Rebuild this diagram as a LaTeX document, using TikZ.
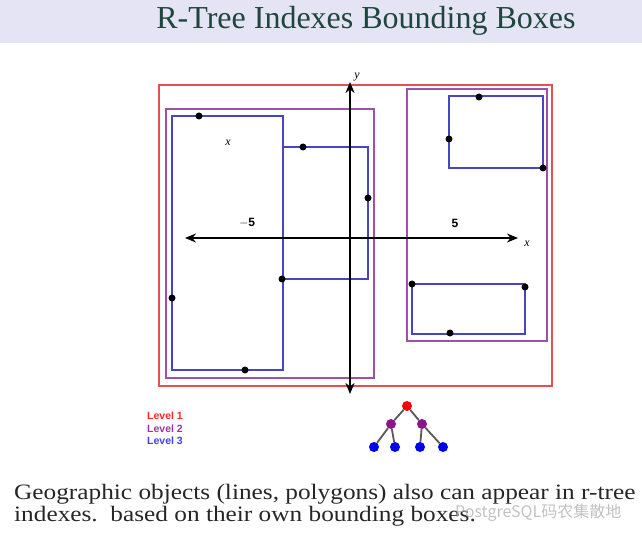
\documentclass[tikz,border=0pt]{standalone}
\usepackage{fontspec}
\setmainfont{Liberation Serif}
\setsansfont{Liberation Sans}
\newfontfamily\cjkfont{Noto Sans CJK SC}
\newfontfamily\capfont[FakeStretch=1.15]{Liberation Serif}
\usetikzlibrary{arrows.meta}
\definecolor{band}{RGB}{228,228,244}
\definecolor{titlecol}{RGB}{30,70,60}
\definecolor{lvla}{RGB}{228,80,80}
\definecolor{lvlb}{RGB}{160,80,170}
\definecolor{lvlc}{RGB}{70,70,190}
\definecolor{treer}{RGB}{250,0,0}
\definecolor{treep}{RGB}{140,20,140}
\definecolor{treeb}{RGB}{0,0,240}
\tikzset{
  boxa/.style={draw=lvla,line width=1.3pt},
  boxb/.style={draw=lvlb,line width=1.3pt},
  boxc/.style={draw=lvlc,line width=1.3pt},
  pt/.style={circle,fill=black,inner sep=0pt,minimum size=7pt},
  axis/.style={line width=2.2pt,-{Stealth[length=11pt,width=9pt]}},
  tnode/.style={circle,inner sep=0pt,minimum size=10pt},
  tedge/.style={draw=black!65,line width=1.8pt},
  lvl/.style={font=\sffamily\bfseries\fontsize{10.5}{11}\selectfont,anchor=west,inner sep=0pt},
  axlab/.style={font=\itshape\fontsize{12}{12}\selectfont,inner sep=0pt},
  numlab/.style={font=\sffamily\bfseries\fontsize{12}{12}\selectfont,inner sep=0pt},
  captext/.style={anchor=base west,inner sep=0pt,font=\capfont\fontsize{22}{26}\selectfont,text=black!85},
}
\begin{document}
\begin{tikzpicture}[x=1pt,y=-1pt]
\useasboundingbox (0,0) rectangle (642,545);
\fill[band] (0,0) rectangle (642,43);
\node[anchor=base,text=titlecol,font=\fontsize{32}{34}\selectfont,inner sep=0pt] (title) at (366,29) {R-Tree Indexes Bounding Boxes};
% level 1
\draw[boxa] (159,85) rectangle (552,386);
% level 2
\draw[boxb] (166,109) rectangle (374,378);
\draw[boxb] (407,89) rectangle (547,341);
% level 3
\draw[boxc] (172,116) rectangle (283,370);
\draw[boxc] (283,147) rectangle (368,279);
\draw[boxc] (449,96) rectangle (543,168);
\draw[boxc] (412,284) rectangle (525,334);
% axes
\coordinate (xo) at (350,238);
\coordinate (xl) at (185,238);
\coordinate (xr) at (518,238);
\coordinate (yt) at (350,82);
\coordinate (yb) at (350,394);
\draw[axis] (xo) -- (xl);
\draw[axis] (xo) -- (xr);
\draw[axis] (xo) -- (yt);
\draw[axis] (xo) -- (yb);
\node[axlab] (ylab) at (357,77) {y};
\node[axlab] (xlab) at (527,244) {x};
\node[axlab] (xin) at (228,143) {x};
\node[numlab] (m5) at (247,223) {$-$5};
\node[numlab] (p5) at (455,223) {5};
% points
\node[pt] (p1) at (199,116) {};
\node[pt] (p2) at (172,298) {};
\node[pt] (p3) at (245,370) {};
\node[pt] (p4) at (303,147) {};
\node[pt] (p5d) at (368,198) {};
\node[pt] (p6) at (282,279) {};
\node[pt] (p7) at (479,97) {};
\node[pt] (p8) at (449,139) {};
\node[pt] (p9) at (543,168) {};
\node[pt] (p10) at (412,284) {};
\node[pt] (p11) at (525,287) {};
\node[pt] (p12) at (450,333) {};
% legend
\node[lvl,text=treer!85!white] (l1) at (147,416) {Level 1};
\node[lvl,text=treep!85!white] (l2) at (147,429) {Level 2};
\node[lvl,text=treeb!75!white] (l3) at (147,441) {Level 3};
% tree
\node[tnode,fill=treer] (r) at (407,406) {};
\node[tnode,fill=treep] (a) at (391,424) {};
\node[tnode,fill=treep] (b) at (422,424) {};
\node[tnode,fill=treeb] (c1) at (374,447) {};
\node[tnode,fill=treeb] (c2) at (395,447) {};
\node[tnode,fill=treeb] (c3) at (420,447) {};
\node[tnode,fill=treeb] (c4) at (443,447) {};
\draw[tedge] (r) -- (a);
\draw[tedge] (r) -- (b);
\draw[tedge] (a) -- (c1);
\draw[tedge] (a) -- (c2);
\draw[tedge] (b) -- (c3);
\draw[tedge] (b) -- (c4);
% caption
\node[captext] (cap1) at (14,499) {Geographic objects (lines, polygons) also can appear in r-tree};
\node[captext] (cap2) at (14,521) {indexes.\ \ based on their own bounding boxes.};
\node[anchor=west,inner sep=0pt,font=\cjkfont\fontsize{16}{16}\selectfont,text=black!30,opacity=0.8] (wm) at (455,513) {PostgreSQL码农集散地};
\end{tikzpicture}
\end{document}
